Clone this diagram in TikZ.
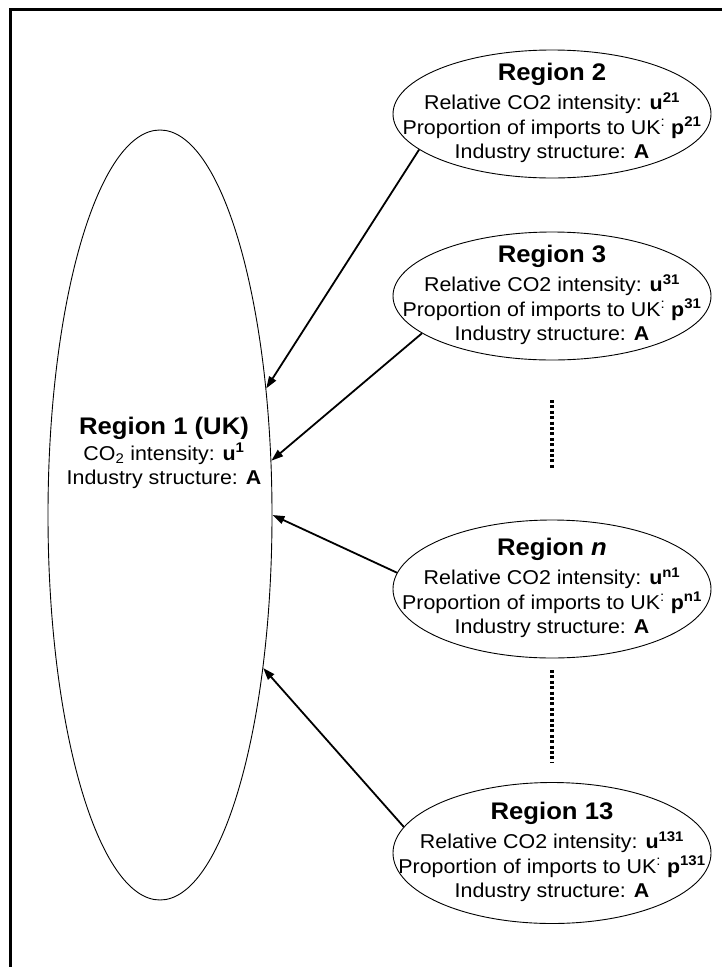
\documentclass[tikz,border=0pt]{standalone}
\usepackage{fontspec}
\setmainfont[FakeStretch=1.07]{Liberation Sans}
\usepackage{tikz}
\usetikzlibrary{shapes.geometric, arrows.meta, positioning}

\tikzset{
  region/.style={draw, ellipse, line width=0.9pt, minimum width=318pt, inner sep=0pt},
  regtext/.style={align=center, inner sep=0pt, font=\fontsize{20}{24.5}\selectfont},
  link/.style={-{Triangle[length=12pt,width=8pt]}, line width=1.8pt},
  dotline/.style={line width=3.5pt, dash pattern=on 3pt off 2.4pt},
  frame/.style={line width=3pt}
}

\begin{document}
\begin{tikzpicture}[x=1pt, y=-1pt]
\useasboundingbox (0,0) rectangle (722,967);
\draw[frame] (10,967) -- (10,9) -- (722,9);

\node[region, minimum width=224pt, minimum height=770pt] (uk) at (160,515) {};
\node[regtext] (uk-text) at (164,453)
  {\textbf{\fontsize{24}{24}\selectfont Region 1 (UK)}\\[1pt]
   CO\textsubscript{2} intensity: \textbf{u\textsuperscript{1}}\\
   Industry structure: \textbf{A}};

\foreach \nm/\y/\h/\ttl/\idx in {r2/114/128/2/21, r3/296/128/3/31, rn/589/138/\textit{n}/n1, r13/853/141/13/131}
{
  \node[region, minimum height=\h pt] (\nm) at (552,\y) {};
  \node[regtext] (\nm-text) at ([yshift=1pt]\nm.center)
    {\textbf{\fontsize{24}{24}\selectfont Region \ttl}\\[5pt]
     Relative CO2 intensity: \textbf{u\textsuperscript{\idx}}\\
     Proportion of imports to UK\textsuperscript{:} \textbf{p\textsuperscript{\idx}}\\
     Industry structure: \textbf{A}};
}

\draw[link] (r2.195) -- (uk.50.5);
\draw[link] (r3.196) -- (uk.26);
\draw[link] (rn.174) -- (uk.0);
\draw[link] (r13.170) -- (uk.-56);

\coordinate (gap1) at (552,400);
\coordinate (gap2) at (552,670);
\draw[dotline] (gap1) -- ++(0,69);
\draw[dotline] (gap2) -- ++(0,92);
\end{tikzpicture}
\end{document}
